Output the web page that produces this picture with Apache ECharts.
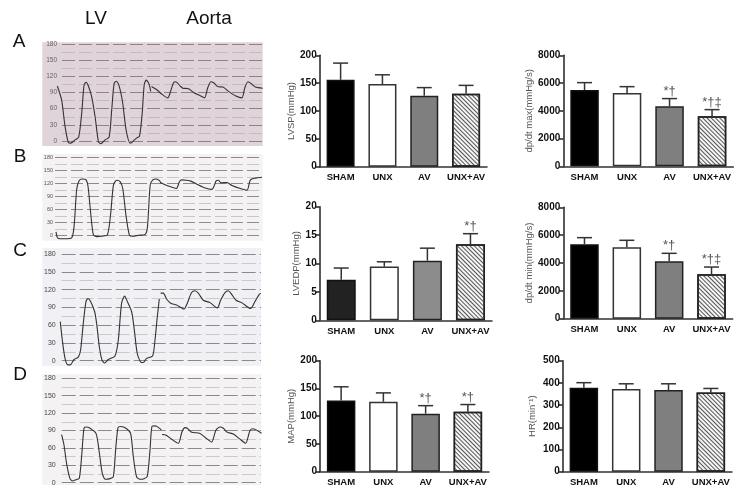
<!DOCTYPE html>
<html><head><meta charset="utf-8">
<style>html,body{margin:0;padding:0;background:#fff}#c{width:750px;height:500px}</style>
<script src="https://cdn.jsdelivr.net/npm/echarts@6/dist/echarts.min.js"></script>
</head><body><div id="c"></div>
<script>
const categories = ['SHAM','UNX','AV','UNX+AV'];

const lvspMean = [156,148.5,127.5,131];
const lvspUpper = [186,165,142,146];
const lvspMarks = ['','','',''];

const dpMaxMean = [5500,5285,4325,3600];
const dpMaxUpper = [6030,5740,4880,4085];
const dpMaxMarks = ['','','*†','*†‡'];

const lvedpMean = [7.15,9.45,10.5,13.4];
const lvedpUpper = [9.2,10.3,12.7,15.25];
const lvedpMarks = ['','','','*†'];

const dpMinMean = [5340,5125,4120,3185];
const dpMinUpper = [5820,5630,4695,3710];
const dpMinMarks = ['','','*†','*†‡'];

const mapMean = [128.5,126,104.5,108];
const mapUpper = [153,142,119,121];
const mapMarks = ['','','*†','*†'];

const hrMean = [378,372,368,357];
const hrUpper = [401,396,396,375];
const hrMarks = ['','','',''];

const pressureTicks = [0,30,60,90,120,150,180];

const aLvT = [15,19.3,22.7,26,28.3,32.7,36.3,39.3,41.7,43.7,46,49.3,52.7,56,58.3,62.7,66.7,69.3,71.7,74,77,80.3,83.7,87.7,89.7,93.7,97,99.7,101.7,103.7,106.3,108.3];
const aLvP = [102,76,27,-3,-4,2,7,51,104,109,102,82,45,-1,-5,2,7,58,107,111,100,70,20,-4,-2,5,9,51,104,113,107,92];
const aAoT = [109,114.3,119.3,125.3,128,131,133.3,137.7,140.3,146,151,157.7,162,165,168.3,171,175,180.3,186,192.7,199.3,202,205.3,208.3,212.7,220];
const aAoP = [101,95,87,80,92,108,110,102,98,97,90,84,80,98,110,108,101,100,92,84,80,98,110,107,100,98];

const bLvT = [13.7,15,17.7,22.7,29.3,31.7,34.3,36.7,40,43.7,45.7,48.3,51,54.3,59.3,65,68.3,71,74.3,77.7,80.3,83.7,87,90,96,102.7,105,107.7,110.3,113.7,117,118.3];
const bLvP = [8,-5,-8,-8,-6,20,105,126,130,128,112,51,1,-3,-2,1,51,116,127,124,108,43,0,-2,0,2,20,116,128,130,126,120];
const bAoT = [118.3,124.3,133.7,137,139.3,143.7,148.3,154.3,162.7,169.3,173.7,176,178.3,184.3,189.3,197.7,204.3,207.7,212.7,219.3];
const bAoP = [121,115,108,124,128,127,125,118,109,106,126,127,121,122,115,108,104,128,132,134];

const cLvT = [18,20,22.7,25.7,28,31.7,36,38.3,41,43.7,45.7,48.3,52.3,54.3,57,59.7,62.3,66,72.7,76,79.3,82.3,85,89.3,92,95,99,101,104.3,110.3,112.7,115,117];
const cLvP = [66,35,4,-7,-7,2,6,18,63,100,105,100,83,63,24,1,-4,2,8,35,97,109,100,83,52,12,-3,-3,4,8,35,74,104];
const cAoT = [118.3,121,124.3,128.3,134.3,141.7,145,149.3,152.7,156,161,167.7,175,178.3,182.7,186,189.3,193.7,199.3,208.3,212.7,217,218.7];
const cAoP = [114,114,104,97,94,87,97,115,118,114,102,98,89,102,115,118,112,102,98,88,100,112,114];

const dLvT = [19.3,21.7,24.3,27.7,30.3,33.7,37,39.3,41.7,43.7,47.7,53.7,56.7,60,63,67.7,71,73.3,75.7,78.3,83.7,88.3,91,94.3,97.7,101.7,105,107.7,109.7,113,116.3,119];
const dLvP = [83,65,33,7,3,5,8,45,94,96,94,85,56,16,6,7,10,56,95,97,94,85,45,10,6,7,11,56,97,98,95,91];
const dAoT = [119.7,123.7,129.3,136,139.7,142.7,145,149.3,157.7,164.3,169.3,173.7,177.7,181,185,191,197,203.3,207.7,211,215,219.3];
const dAoP = [83,82,75,68,88,95,94,87,85,76,70,91,96,94,87,84,76,68,90,93,90,85];

const FONT = '"Liberation Sans", Arial, sans-serif';
const zip = (a,b)=>a.map((v,i)=>[v,b[i]]);

const traces = [
  {lv:[aLvT,aLvP],ao:[aAoT,aAoP],left:62,right:262.7,top:44,bottom:141,xMax:220,bg:[42.3,42.3,220.4,103.7,'#dfd4d9'],lab:'#6a6066',dash:'#8e8288',minor:'#c6bac0',fs:6.5,margin:5,lw:1.1,bw:[13,4]},
  {lv:[bLvT,bLvP],ao:[bAoT,bAoP],left:55,right:262.7,top:157.3,bottom:235.3,xMax:220,bg:[42.3,154,220.4,86.7,'#f5f2f4'],lab:'#555',dash:'#8c8c8c',minor:'#c8c6c7',fs:5.5,margin:2,lw:1.1,bw:[12,4]},
  {lv:[cLvT,cLvP],ao:[cAoT,cAoP],left:61.7,right:261,top:254,bottom:360.7,xMax:218.7,bg:[42.3,248,218.7,118,'#f1f1f5'],lab:'#444',dash:'#8a8a8a',minor:'#cacaca',fs:7,margin:6,lw:1.1,bw:[14,4]},
  {lv:[dLvT,dLvP],ao:[dAoT,dAoP],left:61.7,right:261,top:378.3,bottom:482.7,xMax:218.7,bg:[42.3,374.3,218.7,110.7,'#f4f2f3'],lab:'#444',dash:'#8a8a8a',minor:'#cacaca',fs:7,margin:6,lw:1.1,bw:[14,4]}
];

const bars = [
  {mean:lvspMean,upper:lvspUpper,marks:lvspMarks,name:'LVSP(mmHg)',max:200,step:50,left:319.7,right:487,top:55.3,bottom:166.7,nameX:292,bw:28},
  {mean:dpMaxMean,upper:dpMaxUpper,marks:dpMaxMarks,name:'dp/dt max(mmHg/s)',max:8000,step:2000,left:563.3,right:733.3,top:55.3,bottom:166.3,nameX:531,bw:28.5},
  {mean:lvedpMean,upper:lvedpUpper,marks:lvedpMarks,name:'LVEDP(mmHg)',max:20,step:5,left:319.7,right:492,top:206.7,bottom:320.3,nameX:297,bw:29,sham:'#222',av:'#8c8c8c'},
  {mean:dpMinMean,upper:dpMinUpper,marks:dpMinMarks,name:'dp/dt min(mmHg/s)',max:8000,step:2000,left:563.3,right:732.7,top:207.3,bottom:318.7,nameX:531,bw:28.5},
  {mean:mapMean,upper:mapUpper,marks:mapMarks,name:'MAP(mmHg)',max:200,step:50,left:320,right:489,top:360.7,bottom:471.7,nameX:293,bw:28.5},
  {mean:hrMean,upper:hrUpper,marks:hrMarks,name:'HR(min⁻¹)',max:500,step:100,left:562.7,right:732,top:360.7,bottom:471.7,nameX:532,bw:28.5}
];

const grid=[],xAxis=[],yAxis=[],series=[],graphic=[];
const pMin=pressureTicks[0],pMax=pressureTicks[pressureTicks.length-1],pStep=pressureTicks[1]-pressureTicks[0];
traces.forEach(t=>{
  // chart-paper ruling: its own grid, starting right of the printed scale
  const g=grid.length;
  grid.push({left:t.left,width:t.right-t.left,top:t.top,height:t.bottom-t.top});
  xAxis.push({type:'value',gridIndex:g,min:0,max:1,show:false,splitLine:{show:false}});
  yAxis.push({type:'value',gridIndex:g,min:pMin,max:pMax,interval:pStep,
    axisLine:{show:false},axisTick:{show:false},
    axisLabel:{color:t.lab,fontSize:t.fs,fontFamily:FONT,margin:t.margin,hideOverlap:false},
    splitLine:{show:true,lineStyle:{color:t.dash,width:1,type:t.bw}},
    minorTick:{show:false,splitNumber:2},
    minorSplitLine:{show:true,lineStyle:{color:t.minor,width:1,type:t.bw}}});
  // pressure trace: spans the whole paper width
  const h=grid.length;
  grid.push({left:t.bg[0],width:t.bg[2],top:t.top,height:t.bottom-t.top});
  xAxis.push({type:'value',gridIndex:h,min:0,max:t.xMax,show:false,splitLine:{show:false}});
  yAxis.push({type:'value',gridIndex:h,min:pMin,max:pMax,interval:pStep,show:false,splitLine:{show:false}});
  [t.lv,t.ao].forEach(p=>series.push({type:'line',xAxisIndex:h,yAxisIndex:h,data:zip(p[0],p[1]),symbol:'none',smooth:0.25,clip:false,animation:false,silent:true,z:5,
    lineStyle:{color:'#333',width:t.lw}}));
  graphic.push({type:'rect',z:-10,silent:true,shape:{x:t.bg[0],y:t.bg[1],width:t.bg[2],height:t.bg[3]},style:{fill:t.bg[4]}});
});

const hatch={symbol:'rect',color:'#555',rotation:Math.PI/4,dashArrayX:[1,0],dashArrayY:[1,1.6],symbolSize:1};
bars.forEach(b=>{
  const i=grid.length;
  grid.push({left:b.left,width:b.right-b.left,top:b.top,height:b.bottom-b.top});
  xAxis.push({type:'category',gridIndex:i,data:categories,axisTick:{show:false},
    axisLine:{lineStyle:{color:'#333',width:1.5}},
    axisLabel:{color:'#111',fontWeight:'bold',fontSize:9.5,fontFamily:FONT,margin:6,interval:0}});
  yAxis.push({type:'value',gridIndex:i,min:0,max:b.max,interval:b.step,
    name:b.name,nameLocation:'middle',nameRotate:90,nameGap:b.left-b.nameX-5,
    nameTextStyle:{color:'#555',fontSize:9.5,fontFamily:FONT},
    axisLine:{show:true,lineStyle:{color:'#222',width:1.5}},
    axisTick:{show:true,length:4,lineStyle:{color:'#222',width:1.5}},
    axisLabel:{color:'#111',fontWeight:'bold',fontSize:10,fontFamily:FONT,margin:3,formatter:v=>String(v)},
    splitLine:{show:false}});
  const styles=[
    {color:b.sham||'#000',borderColor:'#111',borderWidth:1.5},
    {color:'#fff',borderColor:'#333',borderWidth:1.5},
    {color:b.av||'#7f7f7f',borderColor:'#222',borderWidth:1.5},
    {color:'#f5f5f5',borderColor:'#222',borderWidth:1.5,decal:hatch}
  ];
  series.push({type:'bar',xAxisIndex:i,yAxisIndex:i,barWidth:b.bw,animation:false,silent:true,z:3,
    data:b.mean.map((v,j)=>({value:v,itemStyle:styles[j]}))});
  series.push({type:'custom',xAxisIndex:i,yAxisIndex:i,animation:false,silent:true,z:4,clip:false,
    data:b.mean.map((v,j)=>[j,v,b.upper[j]]),
    renderItem:(p,api)=>{
      const j=api.value(0);
      const a=api.coord([j,api.value(1)]),u=api.coord([j,api.value(2)]);
      const s={stroke:'#333',lineWidth:1.5,fill:null};
      const kids=[
        {type:'line',shape:{x1:a[0],y1:a[1],x2:u[0],y2:u[1]},style:s},
        {type:'line',shape:{x1:u[0]-7.5,y1:u[1],x2:u[0]+7.5,y2:u[1]},style:s}
      ];
      if(b.marks[j]) kids.push({type:'text',style:{text:b.marks[j],x:u[0],y:u[1]-1,align:'center',verticalAlign:'bottom',
        fill:'#555',font:'13px '+FONT}});
      return {type:'group',children:kids};
    }});
});

const txt=(text,x,y,size)=>({text,left:x,top:y,textAlign:'center',textVerticalAlign:'middle',padding:0,
  textStyle:{color:'#111',fontWeight:'normal',fontSize:size,fontFamily:FONT}});
const title=[
  txt('LV',96,19,19),txt('Aorta',209,19,19),
  txt('A',19,42,19),txt('B',20,157,19),txt('C',20,251,19),txt('D',20,375,19)
];

const chart=echarts.init(document.getElementById('c'),null,{renderer:'canvas',width:750,height:500});
chart.setOption({animation:false,backgroundColor:'#fff',title,grid,xAxis,yAxis,series,graphic});
</script></body></html>
